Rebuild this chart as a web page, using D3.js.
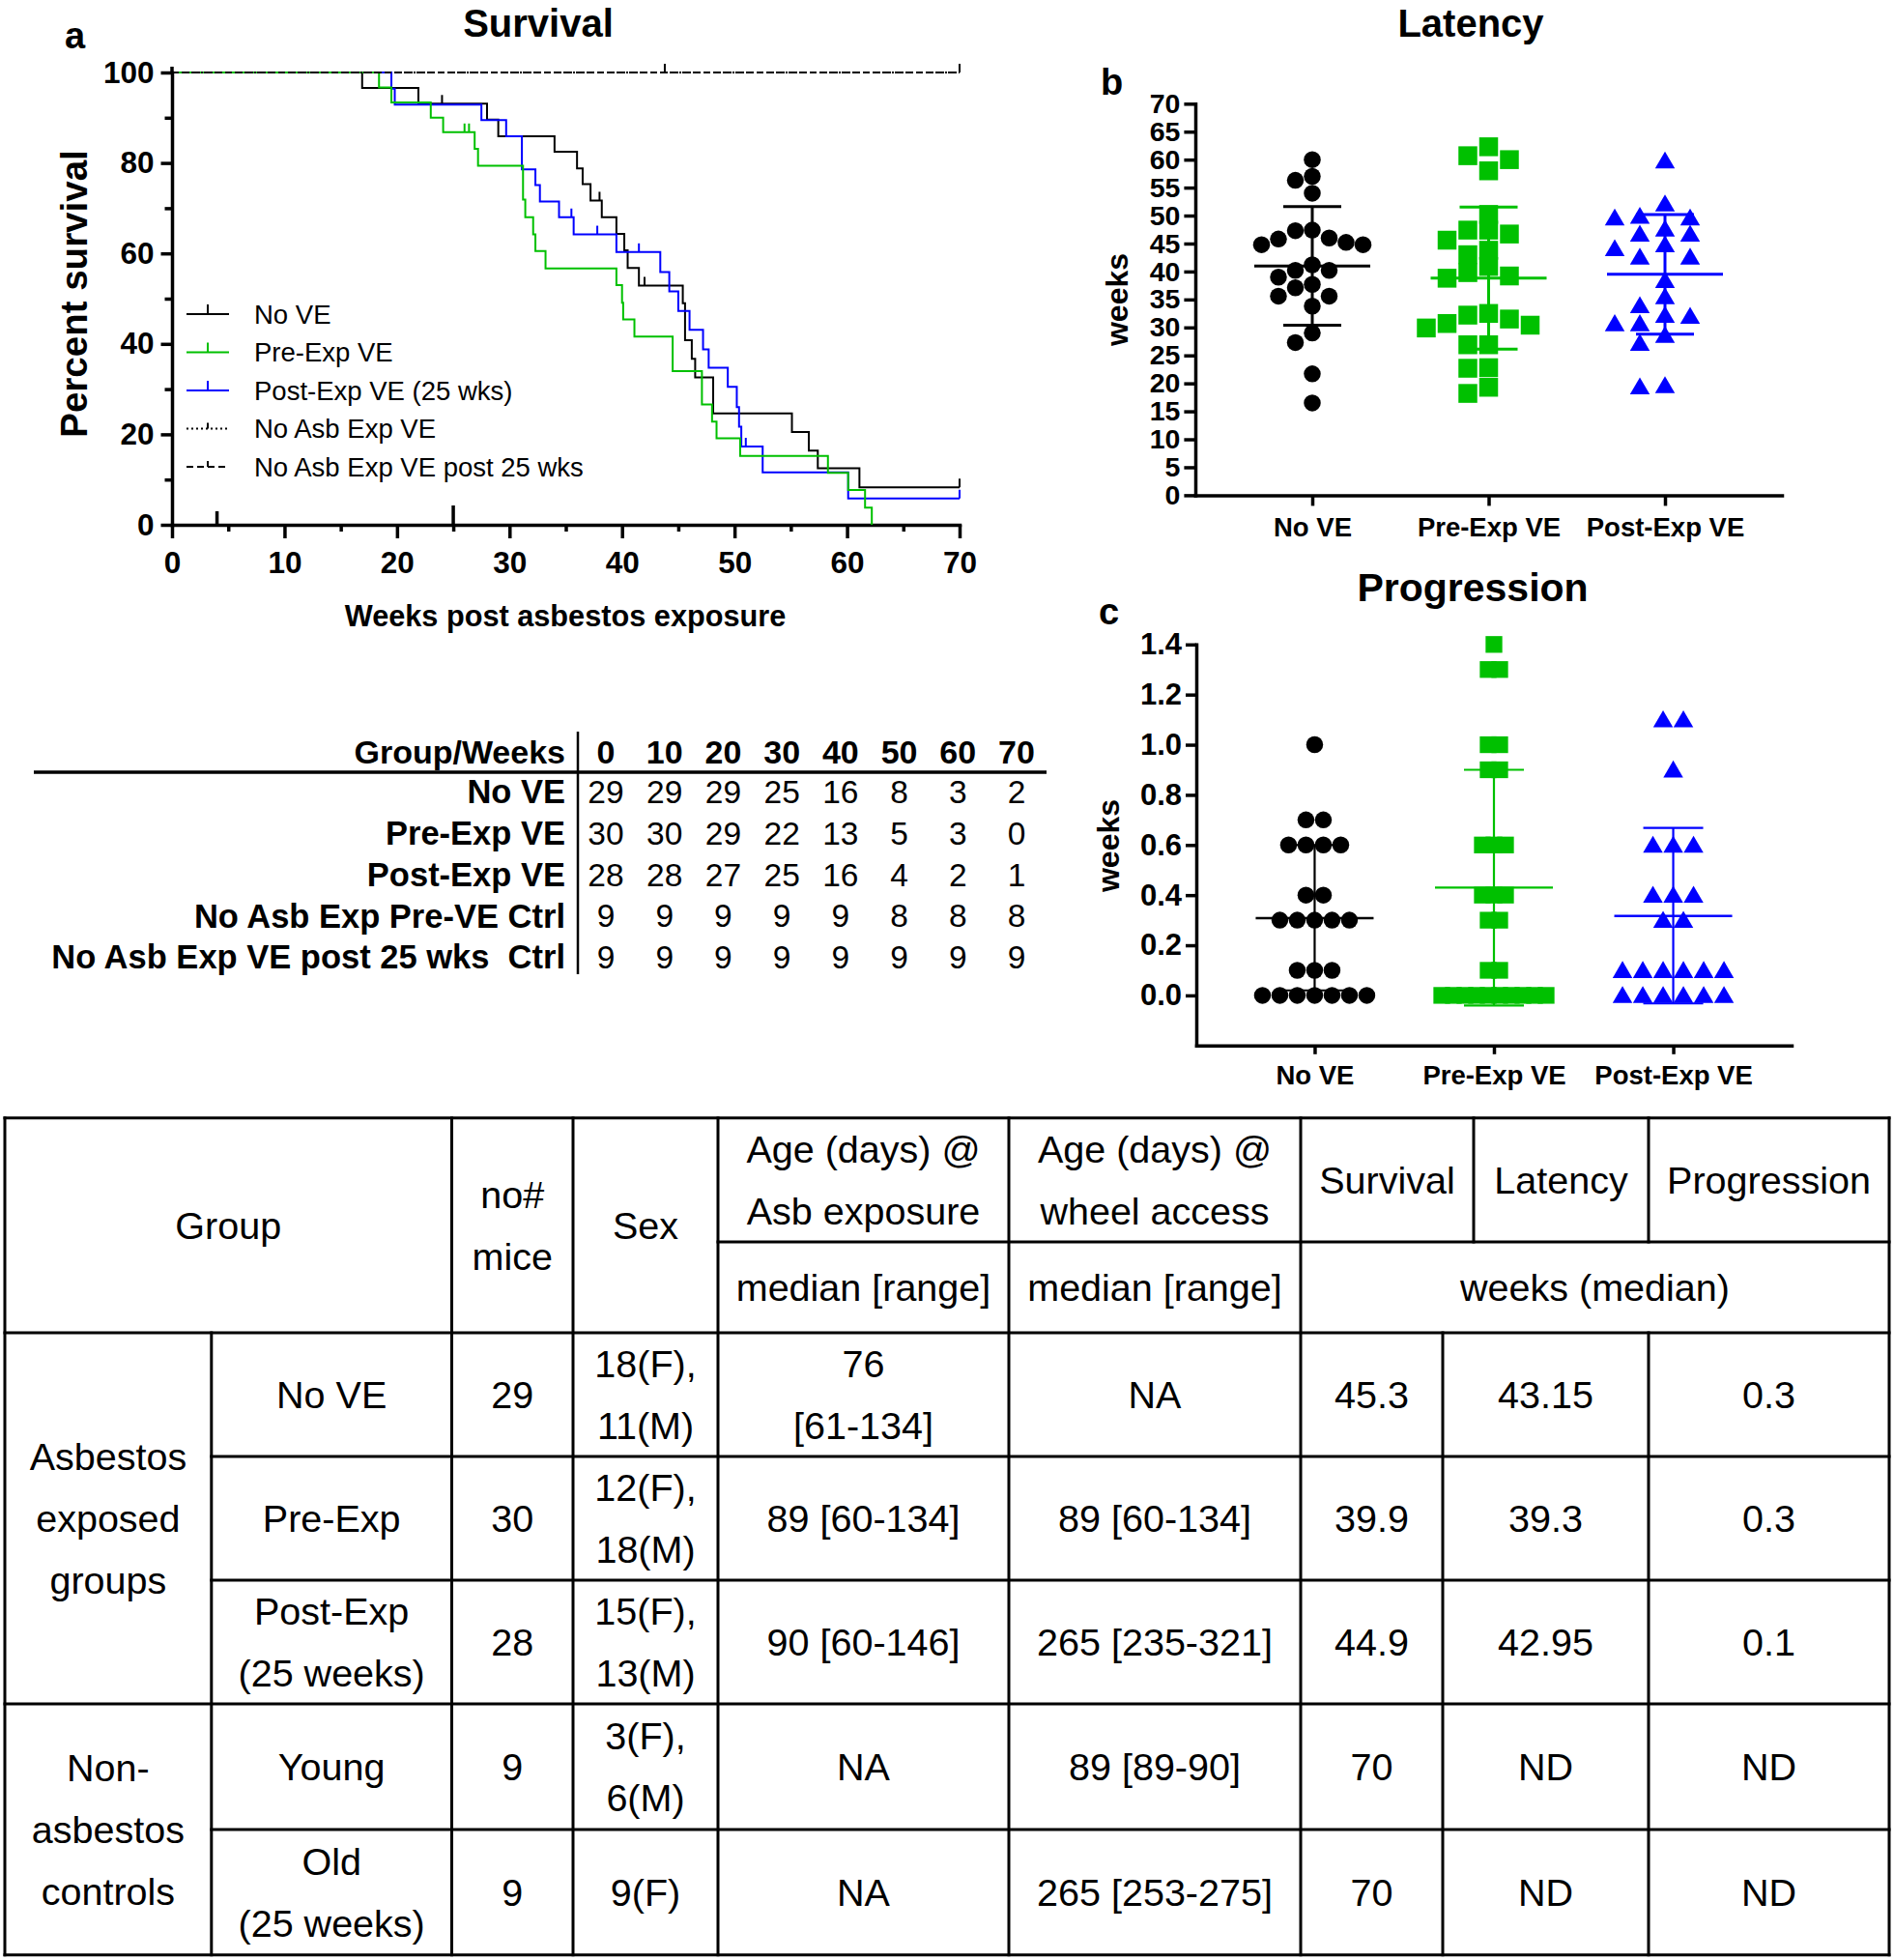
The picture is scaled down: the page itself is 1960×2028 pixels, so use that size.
<!DOCTYPE html>
<html><head><meta charset="utf-8">
<script src="https://cdn.jsdelivr.net/npm/d3@7/dist/d3.min.js"></script>
<style>
html,body{margin:0;padding:0;background:#fff;}
svg{display:block;}
</style></head>
<body>
<svg id="fig" width="1960" height="2028"></svg>
<script>
// ================= DATA =================
// (a) Kaplan-Meier survival: [week, percent] step points
const survivalGroups = ["No VE","Pre-Exp VE","Post-Exp VE (25 wks)","No Asb Exp VE","No Asb Exp VE post 25 wks"];
const survNoVE = [[0,100],[16.9,96.6],[21.9,93.1],[28.0,89.6],[29.0,85.9],[34.0,82.5],[36.0,78.8],[36.5,75.3],[37.2,71.7],[38.2,68.0],[39.5,64.3],[40.2,60.7],[40.5,56.8],[41.5,52.9],[45.4,49.0],[45.6,40.8],[46.2,36.7],[46.5,32.6],[48.1,24.6],[55.1,20.5],[56.6,16.4],[57.4,12.5],[61.1,8.3]];
const survPreExp = [[0,100],[18.4,96.7],[19.5,93.4],[23.0,90.0],[24.1,86.8],[26.9,83.1],[27.2,79.4],[31.2,71.9],[31.4,68.0],[32.1,64.2],[32.3,60.5],[33.2,56.7],[39.5,53.0],[40.0,49.1],[40.1,45.4],[41.1,41.6],[44.5,34.0],[47.1,26.6],[48.0,22.8],[48.4,19.1],[50.5,15.2],[58.3,11.5],[60.1,7.7],[61.6,3.8],[62.2,0]];
const survPostExp = [[0,100],[19.5,96.4],[19.8,92.9],[27.5,89.5],[29.7,85.9],[31.1,78.6],[32.3,75.1],[32.7,71.5],[34.4,68.0],[35.7,64.2],[39.5,60.3],[43.4,55.9],[44.2,51.6],[45.0,47.3],[46.0,43.1],[47.2,38.8],[47.7,34.7],[49.4,30.5],[50.2,26.0],[50.4,21.7],[50.6,17.3],[52.5,11.6],[60.1,5.8]];
const survNoAsbPre = [[0,100]];
const survNoAsbPost = [[0,100]];
const survEnd = [70, 62.2, 70, 70, 70];
const censNoVE = [24.0, 38.0, 42.0, 70];
const censPreExp = [26.0, 26.4];
const censPostExp = [35.5, 37.8, 41.5, 51.0, 70];
const censNoAsbPre = [43.8, 70];
const censNoAsbPost = [70];
const survXTicks = [0,10,20,30,40,50,60,70];
const survXMinor = [5,15,25,35,45,55,65];
const survYTicks = [0,20,40,60,80,100];
const survYMinor = [10,30,50,70,90];
const survMarkWeeks = [4, 25];

// at-risk table
const riskWeeks = [0,10,20,30,40,50,60,70];
const riskGroups = ["No VE","Pre-Exp VE","Post-Exp VE","No Asb Exp Pre-VE Ctrl","No Asb Exp VE post 25 wks  Ctrl"];
const riskNoVE = [29,29,29,25,16,8,3,2];
const riskPreExp = [30,30,29,22,13,5,3,0];
const riskPostExp = [28,28,27,25,16,4,2,1];
const riskNoAsbPre = [9,9,9,9,9,8,8,8];
const riskNoAsbPost = [9,9,9,9,9,9,9,9];

// (b) latency (weeks)
const groupCats = ["No VE","Pre-Exp VE","Post-Exp VE"];
const latNoVE = [60.0,57.0,56.3,54.0,47.4,47.3,46.0,45.8,45.2,44.8,44.8,41.2,40.2,40.2,39.0,37.7,37.1,35.6,35.6,33.8,29.0,27.3,21.7,16.5];
const latPreExp = [62.3,60.7,60.0,58.0,50.2,47.4,47.4,46.7,45.6,43.8,43.0,40.9,39.8,39.2,38.8,32.5,32.2,31.5,30.7,30.4,29.9,26.9,26.9,22.8,22.7,19.3,18.2];
const latPostExp = [59.8,52.1,49.9,49.6,49.6,47.6,46.7,46.7,44.8,44.1,42.6,42.6,38.4,35.5,33.9,32.2,32.0,30.7,30.7,28.6,27.2,19.6,19.4];
const latMean = [41.0, 38.8, 39.5];
const latSdLow = [30.4, 26.1, 28.8];
const latSdHigh = [51.6, 51.5, 50.2];
const latYTicks = [0,5,10,15,20,25,30,35,40,45,50,55,60,65,70];

// (c) progression (weeks)
const progNoVE = [1.0,0.7,0.7,0.6,0.6,0.6,0.6,0.4,0.4,0.3,0.3,0.3,0.3,0.3,0.1,0.1,0.1,0,0,0,0,0,0,0];
const progPreExp = [1.4,1.3,1.3,1.0,1.0,0.9,0.9,0.6,0.6,0.6,0.4,0.4,0.4,0.3,0.3,0.1,0.1,0,0,0,0,0,0,0,0,0,0];
const progPostExp = [1.1,1.1,0.9,0.6,0.6,0.6,0.4,0.4,0.4,0.3,0.3,0.1,0.1,0.1,0.1,0.1,0.1,0,0,0,0,0,0];
const progMean = [0.308, 0.43, 0.317];
const progSdLow = [0.02, -0.04, -0.032];
const progSdHigh = [0.60, 0.90, 0.668];
const progYTicks = [0,0.2,0.4,0.6,0.8,1.0,1.2,1.4];

// summary table
const tblSuperGroups = ["Asbestos\nexposed\ngroups","Non-\nasbestos\ncontrols"];
const tblGroups = ["No VE","Pre-Exp","Post-Exp\n(25 weeks)","Young","Old\n(25 weeks)"];
const tblMice = ["29","30","28","9","9"];
const tblSex = ["18(F),\n11(M)","12(F),\n18(M)","15(F),\n13(M)","3(F),\n6(M)","9(F)"];
const tblAgeAsb = ["76\n[61-134]","89 [60-134]","90 [60-146]","NA","NA"];
const tblAgeWheel = ["NA","89 [60-134]","265 [235-321]","89 [89-90]","265 [253-275]"];
const tblSurvival = ["45.3","39.9","44.9","70","70"];
const tblLatency = ["43.15","39.3","42.95","ND","ND"];
const tblProgression = ["0.3","0.3","0.1","ND","ND"];

// ================= DRAWING =================
const FONT = '"Liberation Sans", Arial, Helvetica, sans-serif';
const BLACK = "#000000", GREEN = "#00c000", BLUE = "#0000ff";
const svg = d3.select("#fig").attr("font-family", FONT);
svg.append("rect").attr("width",1960).attr("height",2028).attr("fill","#fff");

function styleAxis(g, fs, sw){
  g.attr("font-family", null).attr("font-size", null);
  g.selectAll("path.domain").attr("stroke",BLACK).attr("stroke-width",sw).attr("stroke-linecap","square");
  g.selectAll(".tick line").attr("stroke",BLACK).attr("stroke-width",sw);
  g.selectAll(".tick text").attr("font-size",fs).attr("font-weight","bold").attr("fill",BLACK);
}
function label(txt, x, y, opt){
  opt = opt || {};
  const t = svg.append("text").text(txt).attr("x",x).attr("y",y)
    .attr("text-anchor", opt.anchor || "middle")
    .attr("font-size", opt.size || 30)
    .attr("font-weight", opt.weight || "normal").attr("fill", BLACK);
  if (opt.rotate) t.attr("x",0).attr("y",0).attr("transform",`translate(${x},${y}) rotate(-90)`);
  if (opt.pre) t.style("white-space","pre");
  return t;
}

// ---------- (a) Survival ----------
const xS = d3.scaleLinear().domain([0,70]).range([178,993]);
const yS = d3.scaleLinear().domain([0,100]).range([543,75]);
const gA = svg.append("g");

gA.append("g").attr("transform",`translate(${xS(0)},0)`)
  .call(d3.axisLeft(yS).tickValues(survYTicks).tickSize(11.5).tickPadding(7).tickSizeOuter(0))
  .call(g=>styleAxis(g,31.5,3.5));
gA.append("g").attr("transform",`translate(${xS(0)},0)`)
  .call(d3.axisLeft(yS).tickValues(survYMinor).tickSize(7.5).tickFormat(""))
  .call(g=>{g.select(".domain").remove(); styleAxis(g,31,3.5);});
gA.append("line").attr("x1",xS(0)).attr("x2",xS(0)).attr("y1",yS(100)).attr("y2",yS(100)-6)
  .attr("stroke",BLACK).attr("stroke-width",3.5);
gA.append("g").attr("transform",`translate(0,${yS(0)})`)
  .call(d3.axisBottom(xS).tickValues(survXTicks).tickSize(14).tickPadding(14).tickSizeOuter(0))
  .call(g=>styleAxis(g,31.5,3.5));
gA.append("g").attr("transform",`translate(0,${yS(0)})`)
  .call(d3.axisBottom(xS).tickValues(survXMinor).tickSize(7).tickFormat(""))
  .call(g=>{g.select(".domain").remove(); styleAxis(g,31,3.5);});
const markH = [14, 20];
gA.selectAll("line.mark").data(survMarkWeeks).join("line").attr("class","mark")
  .attr("x1",d=>xS(d)).attr("x2",d=>xS(d)).attr("y1",yS(0)).attr("y2",(d,i)=>yS(0)-markH[i])
  .attr("stroke",BLACK).attr("stroke-width",3.5);

const survSeries = [
  {pts:survNoVE, end:survEnd[0], cens:censNoVE, color:BLACK, dash:null, w:2},
  {pts:survPreExp, end:survEnd[1], cens:censPreExp, color:GREEN, dash:null, w:2},
  {pts:survPostExp, end:survEnd[2], cens:censPostExp, color:BLUE, dash:null, w:2},
  {pts:survNoAsbPre, end:survEnd[3], cens:censNoAsbPre, color:BLACK, dash:"2,3", w:2},
  {pts:survNoAsbPost, end:survEnd[4], cens:censNoAsbPost, color:BLACK, dash:"7,4", w:2}
];
const stepLine = d3.line().x(d=>xS(d[0])).y(d=>yS(d[1])).curve(d3.curveStepAfter);
function survAt(pts,t){ let s = pts[0][1]; for (const p of pts) if (p[0] <= t) s = p[1]; return s; }
[0,2,1,3,4].forEach(i=>{
  const s = survSeries[i];
  const pts = s.pts.concat([[s.end, s.pts[s.pts.length-1][1]]]);
  gA.append("path").attr("d",stepLine(pts)).attr("fill","none").attr("stroke",s.color)
    .attr("stroke-width",s.w).attr("stroke-dasharray",s.dash);
  gA.selectAll(null).data(s.cens).join("line")
    .attr("x1",d=>xS(d)).attr("x2",d=>xS(d)).attr("y1",d=>yS(survAt(s.pts,d))).attr("y2",d=>yS(survAt(s.pts,d))-9)
    .attr("stroke",s.color).attr("stroke-width",2);
});

// legend
const yLeg = d3.scalePoint().domain(survivalGroups).range([325,483]);
survivalGroups.forEach((name,i)=>{
  const s = survSeries[i], y = yLeg(name);
  gA.append("line").attr("x1",193).attr("x2",237).attr("y1",y).attr("y2",y)
    .attr("stroke",s.color).attr("stroke-width",2).attr("stroke-dasharray",s.dash);
  gA.append("line").attr("x1",215).attr("x2",215).attr("y1",y).attr("y2",y-(s.dash?6:10))
    .attr("stroke",s.color).attr("stroke-width",2);
  gA.append("text").text(name).attr("x",263).attr("y",y).attr("dy","0.36em")
    .attr("font-size",27.5).attr("fill",BLACK);
});

label("Survival", 557, 38, {size:40, weight:"bold"});
label("a", 67, 50, {size:38, weight:"bold", anchor:"start"});
label("Percent survival", 90, 304, {size:38.5, weight:"bold", rotate:true});
label("Weeks post asbestos exposure", 585, 648, {size:30.7, weight:"bold"});

// ---------- at-risk table ----------
const xR = d3.scalePoint().domain(riskWeeks).range([627,1052]);
const yR = d3.scalePoint().domain(riskGroups).range([819,990]);
const riskRows = [riskNoVE, riskPreExp, riskPostExp, riskNoAsbPre, riskNoAsbPost];
label("Group/Weeks", 585, 778, {size:34, weight:"bold", anchor:"end"}).attr("dy","0.36em");
riskWeeks.forEach(w=> label(String(w), xR(w), 778, {size:34, weight:"bold"}).attr("dy","0.36em"));
svg.append("line").attr("x1",35).attr("x2",1083).attr("y1",799).attr("y2",799).attr("stroke",BLACK).attr("stroke-width",3.5);
svg.append("line").attr("x1",598).attr("x2",598).attr("y1",757).attr("y2",1008).attr("stroke",BLACK).attr("stroke-width",2.5);
riskGroups.forEach((gname,r)=>{
  label(gname, 585, yR(gname), {size:34.5, weight:"bold", anchor:"end", pre:true}).attr("dy","0.36em");
  riskRows[r].forEach((v,c)=> label(String(v), xR(riskWeeks[c]), yR(gname), {size:33.5}).attr("dy","0.36em"));
});

// ---------- marker helpers ----------
function markerPath(shape, x, y, size){
  if (shape === "circle"){ const r = size/2; return `M${x-r},${y}a${r},${r} 0 1,0 ${2*r},0a${r},${r} 0 1,0 ${-2*r},0Z`; }
  if (shape === "square"){ const h = size/2; return `M${x-h},${y-h}h${size}v${size}h${-size}Z`; }
  const w = size*1.05, h = size*0.9;
  return `M${x},${y-h*0.55}L${x+w/2},${y+h*0.45}L${x-w/2},${y+h*0.45}Z`;
}
function swarm(values, yScale, slot, thresh){
  const placed = [];
  return values.map(v=>{
    const y = yScale(v);
    for (let i=0; i<60; i++){
      const k = i===0 ? 0 : (i%2 ? -Math.ceil(i/2) : Math.ceil(i/2));
      if (!placed.some(p=>p.k===k && Math.abs(p.y-y) < thresh)){ placed.push({k,y}); return {v, dx:k*slot}; }
    }
    return {v, dx:0};
  });
}
function rowsLayout(values, slot){
  const out = [];
  for (const [v, arr] of d3.group(values, d=>d)) arr.forEach((_,i)=> out.push({v, dx:(i-(arr.length-1)/2)*slot}));
  return out;
}

// ---------- (b) Latency ----------
const xL = d3.scalePoint().domain(groupCats).range([1237,1844]).padding(0.663);
const yL = d3.scaleLinear().domain([0,70]).range([512.4,107.3]);
const gB = svg.append("g");
const latSeries = [
  {vals:latNoVE, color:BLACK, shape:"circle", size:17.5, slot:17.5},
  {vals:latPreExp, color:GREEN, shape:"square", size:19.5, slot:21.5},
  {vals:latPostExp, color:BLUE, shape:"triangle", size:19.5, slot:26}
];
latSeries.forEach((s,i)=>{
  const cx = xL(groupCats[i]);
  const pts = swarm(s.vals, yL, s.slot, 16);
  gB.selectAll(null).data(pts).join("path").attr("d",d=>markerPath(s.shape, cx+d.dx, yL(d.v), s.size)).attr("fill",s.color);
  const bar = gB.append("g").attr("stroke",s.color).attr("stroke-width",3);
  bar.append("line").attr("x1",cx-60).attr("x2",cx+60).attr("y1",yL(latMean[i])).attr("y2",yL(latMean[i]));
  bar.append("line").attr("x1",cx).attr("x2",cx).attr("y1",yL(latSdLow[i])).attr("y2",yL(latSdHigh[i]));
  [latSdLow[i], latSdHigh[i]].forEach(v=> bar.append("line").attr("x1",cx-30).attr("x2",cx+30).attr("y1",yL(v)).attr("y2",yL(v)));
});
gB.append("g").attr("transform",`translate(1237,0)`)
  .call(d3.axisLeft(yL).tickValues(latYTicks).tickSize(11.6).tickPadding(4).tickSizeOuter(0))
  .call(g=>styleAxis(g,28.5,3.5));
gB.append("g").attr("transform",`translate(0,${yL(0)})`)
  .call(d3.axisBottom(xL).tickSize(11).tickPadding(12).tickSizeOuter(0))
  .call(g=>styleAxis(g,27.5,3.5));
label("Latency", 1522, 38, {size:40, weight:"bold"});
label("b", 1139, 98, {size:38, weight:"bold", anchor:"start"});
label("weeks", 1167, 310, {size:32, weight:"bold", rotate:true});

// ---------- (c) Progression ----------
const xP = d3.scalePoint().domain(groupCats).range([1238,1854]).padding(0.66);
const yP = d3.scaleLinear().domain([-0.2,1.4]).range([1081.8,666.8]);
const gC = svg.append("g");
const progSeries = [
  {vals:progNoVE, color:BLACK, shape:"circle", size:17.5, slot:18},
  {vals:progPreExp, color:GREEN, shape:"square", size:17.3, slot:12},
  {vals:progPostExp, color:BLUE, shape:"triangle", size:19.5, slot:21}
];
progSeries.forEach((s,i)=>{
  const cx = xP(groupCats[i]);
  const bar = gC.append("g").attr("stroke",s.color).attr("stroke-width",2.2);
  bar.append("line").attr("x1",cx).attr("x2",cx).attr("y1",yP(progSdLow[i])).attr("y2",yP(progSdHigh[i]));
  [progSdLow[i], progSdHigh[i]].forEach(v=> bar.append("line").attr("x1",cx-31).attr("x2",cx+31).attr("y1",yP(v)).attr("y2",yP(v)));
  const pts = rowsLayout(s.vals, s.slot);
  gC.selectAll(null).data(pts).join("path").attr("d",d=>markerPath(s.shape, cx+d.dx, yP(d.v), s.size)).attr("fill",s.color);
  gC.append("line").attr("x1",cx-61).attr("x2",cx+61).attr("y1",yP(progMean[i])).attr("y2",yP(progMean[i]))
    .attr("stroke",s.color).attr("stroke-width",2.4);
});
gC.append("g").attr("transform",`translate(1238,0)`)
  .call(d3.axisLeft(yP).tickValues(progYTicks).tickFormat(d3.format(".1f")).tickSize(11).tickPadding(4).tickSizeOuter(0))
  .call(g=>styleAxis(g,31,3.5));
gC.append("g").attr("transform",`translate(0,${yP(-0.2)})`)
  .call(d3.axisBottom(xP).tickSize(9).tickPadding(12).tickSizeOuter(0))
  .call(g=>styleAxis(g,27.5,3.5));
label("Progression", 1524, 622, {size:41, weight:"bold"});
label("c", 1137, 646, {size:38, weight:"bold", anchor:"start"});
label("weeks", 1158, 875, {size:32, weight:"bold", rotate:true});

// ---------- summary table ----------
const T = {x:[5,218.8,467.5,593,743,1044,1346,1493,1525,1706,1955], y:[1156.7,1285,1379,1507,1635,1763,1893,2022.7]};
const gT = svg.append("g").attr("stroke",BLACK).attr("stroke-width",3).attr("stroke-linecap","square");
function hl(y,x1,x2){ gT.append("line").attr("x1",x1).attr("x2",x2).attr("y1",y).attr("y2",y); }
function vl(x,y1,y2){ gT.append("line").attr("x1",x).attr("x2",x).attr("y1",y1).attr("y2",y2); }
const X=T.x, Y=T.y;
hl(Y[0],X[0],X[10]); hl(Y[1],X[4],X[10]); hl(Y[2],X[0],X[10]);
hl(Y[3],X[1],X[10]); hl(Y[4],X[1],X[10]); hl(Y[5],X[0],X[10]); hl(Y[6],X[1],X[10]); hl(Y[7],X[0],X[10]);
vl(X[0],Y[0],Y[7]); vl(X[1],Y[2],Y[7]); vl(X[2],Y[0],Y[7]); vl(X[3],Y[0],Y[7]); vl(X[4],Y[0],Y[7]);
vl(X[5],Y[0],Y[7]); vl(X[6],Y[0],Y[7]); vl(X[8],Y[0],Y[1]); vl(X[7],Y[2],Y[7]);
vl(X[9],Y[0],Y[1]); vl(X[9],Y[2],Y[7]); vl(X[10],Y[0],Y[7]);

function cellText(txt, cx, cy){
  const lines = txt.split("\n"), lh = 64, fs = 39.5;
  const t = svg.append("text").attr("text-anchor","middle").attr("font-size",fs).attr("fill",BLACK);
  lines.forEach((ln,i)=> t.append("tspan").attr("x",cx).attr("y",cy + (i-(lines.length-1)/2)*lh).attr("dy","0.36em").text(ln));
}
const mid = (a,b)=>(a+b)/2;
cellText("Group", mid(X[0],X[2]), mid(Y[0],Y[2]));
cellText("no#\nmice", mid(X[2],X[3]), mid(Y[0],Y[2]));
cellText("Sex", mid(X[3],X[4]), mid(Y[0],Y[2]));
cellText("Age (days) @\nAsb exposure", mid(X[4],X[5]), mid(Y[0],Y[1]));
cellText("median [range]", mid(X[4],X[5]), mid(Y[1],Y[2]));
cellText("Age (days) @\nwheel access", mid(X[5],X[6]), mid(Y[0],Y[1]));
cellText("median [range]", mid(X[5],X[6]), mid(Y[1],Y[2]));
cellText("Survival", mid(X[6],X[8]), mid(Y[0],Y[1]));
cellText("Latency", mid(X[8],X[9]), mid(Y[0],Y[1]));
cellText("Progression", mid(X[9],X[10]), mid(Y[0],Y[1]));
cellText("weeks (median)", mid(X[6],X[10]), mid(Y[1],Y[2]));
cellText(tblSuperGroups[0], mid(X[0],X[1]), mid(Y[2],Y[5]));
cellText(tblSuperGroups[1], mid(X[0],X[1]), mid(Y[5],Y[7]));
const bodyCols = [tblGroups, tblMice, tblSex, tblAgeAsb, tblAgeWheel, tblSurvival, tblLatency, tblProgression];
const bodyX = [mid(X[1],X[2]), mid(X[2],X[3]), mid(X[3],X[4]), mid(X[4],X[5]), mid(X[5],X[6]), mid(X[6],X[7]), mid(X[7],X[9]), mid(X[9],X[10])];
for (let r=0; r<5; r++){
  const cy = mid(Y[r+2], Y[r+3]);
  bodyCols.forEach((col,c)=> cellText(col[r], bodyX[c], cy));
}
</script>
</body></html>
